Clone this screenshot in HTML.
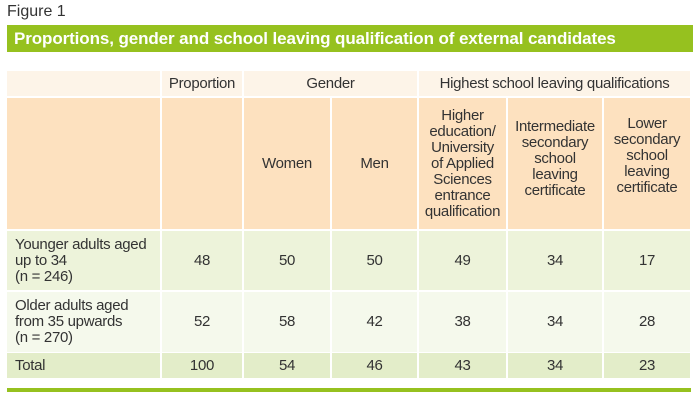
<!DOCTYPE html>
<html><head><meta charset="utf-8"><style>
body{margin:0;width:700px;height:403px;background:#fff;font-family:"Liberation Sans",sans-serif;color:#333;position:relative;overflow:hidden}
.c{position:absolute;display:flex;align-items:center;justify-content:center;text-align:center;font-size:15px;line-height:16px;letter-spacing:-0.3px}
.l{justify-content:flex-start;text-align:left;padding-left:8px;box-sizing:border-box}
.h1{background:#fdf4e8}.h2{background:#fde1bf}.r1{background:#edf3da}.r2{background:#f5f9ec}.t{background:#e3edc9}
</style></head><body>
<div style="position:absolute;left:7px;top:3px;font-size:16px">Figure 1</div>
<div style="position:absolute;left:7px;top:25px;width:686px;height:27px;background:#96c11f;color:#fff;font-weight:bold;font-size:17px;line-height:27px;padding-left:7px;box-sizing:border-box;letter-spacing:-0.1px">Proportions, gender and school leaving qualification of external candidates</div>

<div class="c h1" style="left:7px;top:71px;width:153px;height:25px"></div>
<div class="c h1" style="left:162px;top:71px;width:80px;height:25px">Proportion</div>
<div class="c h1" style="left:244px;top:71px;width:173px;height:25px">Gender</div>
<div class="c h1" style="left:419px;top:71px;width:271px;height:25px">Highest school leaving qualifications</div>

<div class="c h2" style="left:7px;top:98px;width:153px;height:131px"></div>
<div class="c h2" style="left:162px;top:98px;width:80px;height:131px"></div>
<div class="c h2" style="left:244px;top:98px;width:86px;height:131px">Women</div>
<div class="c h2" style="left:332px;top:98px;width:85px;height:131px">Men</div>
<div class="c h2" style="left:419px;top:98px;width:87px;height:131px">Higher<br>education/<br>University<br>of Applied<br>Sciences<br>entrance<br>qualification</div>
<div class="c h2" style="left:508px;top:98px;width:94px;height:131px;padding-bottom:10px;box-sizing:border-box">Intermediate<br>secondary<br>school<br>leaving<br>certificate</div>
<div class="c h2" style="left:604px;top:98px;width:86px;height:131px;padding-bottom:16px;box-sizing:border-box">Lower<br>secondary<br>school<br>leaving<br>certificate</div>

<div class="c r1 l" style="left:7px;top:231px;width:153px;height:59px">Younger adults aged<br>up to 34<br>(n = 246)</div>
<div class="c r1" style="left:162px;top:231px;width:80px;height:59px">48</div>
<div class="c r1" style="left:244px;top:231px;width:86px;height:59px">50</div>
<div class="c r1" style="left:332px;top:231px;width:85px;height:59px">50</div>
<div class="c r1" style="left:419px;top:231px;width:87px;height:59px">49</div>
<div class="c r1" style="left:508px;top:231px;width:94px;height:59px">34</div>
<div class="c r1" style="left:604px;top:231px;width:86px;height:59px">17</div>

<div class="c r2 l" style="left:7px;top:292px;width:153px;height:60px">Older adults aged<br>from 35 upwards<br>(n = 270)</div>
<div class="c r2" style="left:162px;top:292px;width:80px;height:60px">52</div>
<div class="c r2" style="left:244px;top:292px;width:86px;height:60px">58</div>
<div class="c r2" style="left:332px;top:292px;width:85px;height:60px">42</div>
<div class="c r2" style="left:419px;top:292px;width:87px;height:60px">38</div>
<div class="c r2" style="left:508px;top:292px;width:94px;height:60px">34</div>
<div class="c r2" style="left:604px;top:292px;width:86px;height:60px">28</div>

<div class="c t l" style="left:7px;top:353px;width:153px;height:25px">Total</div>
<div class="c t" style="left:162px;top:353px;width:80px;height:25px">100</div>
<div class="c t" style="left:244px;top:353px;width:86px;height:25px">54</div>
<div class="c t" style="left:332px;top:353px;width:85px;height:25px">46</div>
<div class="c t" style="left:419px;top:353px;width:87px;height:25px">43</div>
<div class="c t" style="left:508px;top:353px;width:94px;height:25px">34</div>
<div class="c t" style="left:604px;top:353px;width:86px;height:25px">23</div>

<div style="position:absolute;left:7px;top:388px;width:684px;height:4px;background:#96c11f"></div>
</body></html>
